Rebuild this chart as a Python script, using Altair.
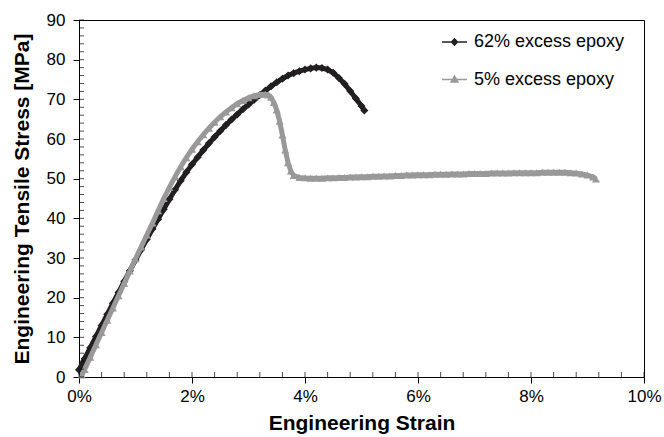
import altair as alt
import pandas as pd

# ---------------- data ----------------
series_names = ["62% excess epoxy", "5% excess epoxy"]
series_colors = ["#231f20", "#999999"]
series_shapes = ["diamond", "triangle-up"]

strain_62 = [0.0, 0.1, 0.2, 0.3, 0.4, 0.5, 0.6, 0.7, 0.8, 0.9,
             1.0, 1.1, 1.2, 1.3, 1.4, 1.5, 1.6, 1.7, 1.8, 1.9,
             2.0, 2.1, 2.2, 2.3, 2.4, 2.5, 2.6, 2.7, 2.8, 2.9,
             3.0, 3.1, 3.2, 3.3, 3.4, 3.5, 3.6, 3.7, 3.8, 3.9,
             4.0, 4.1, 4.2, 4.3, 4.4, 4.5, 4.6, 4.7, 4.8, 4.9,
             5.0, 5.05]
stress_62 = [1.8, 4.6, 7.4, 10.2, 13.0, 15.8, 18.6, 21.3, 24.1, 26.8,
             29.5, 32.1, 34.7, 37.3, 39.8, 42.3, 44.8, 47.2, 49.5, 51.6,
             53.6, 55.4, 57.2, 58.9, 60.5, 62.0, 63.5, 64.9, 66.2, 67.5,
             68.7, 69.9, 71.1, 72.2, 73.3, 74.3, 75.2, 76.0, 76.6, 77.1,
             77.5, 77.8, 78.0, 77.9, 77.5, 76.7, 75.4, 73.9, 72.1, 70.2,
             68.3, 67.2]

strain_5 = [0.05, 0.1, 0.2, 0.3, 0.4, 0.5, 0.6, 0.7, 0.8, 0.9,
            1.0, 1.1, 1.2, 1.3, 1.4, 1.5, 1.6, 1.7, 1.8, 1.9,
            2.0, 2.1, 2.2, 2.3, 2.4, 2.5, 2.6, 2.7, 2.8, 2.9,
            3.0, 3.1, 3.2, 3.3, 3.35, 3.4, 3.45, 3.5, 3.55, 3.6,
            3.65, 3.7, 3.75, 3.8, 3.9,
            4.0, 4.1, 4.2, 4.3, 4.4, 4.5, 4.6, 4.7, 4.8, 4.9,
            5.0, 5.1, 5.2, 5.3, 5.4, 5.5, 5.6, 5.7, 5.8, 5.9,
            6.0, 6.1, 6.2, 6.3, 6.4, 6.5, 6.6, 6.7, 6.8, 6.9,
            7.0, 7.1, 7.2, 7.3, 7.4, 7.5, 7.6, 7.7, 7.8, 7.9,
            8.0, 8.1, 8.2, 8.3, 8.4, 8.5, 8.6, 8.7, 8.8, 8.9,
            9.0, 9.1, 9.15]
stress_5 = [0.5, 1.9, 5.0, 8.1, 11.2, 14.3, 17.4, 20.5, 23.6, 26.7,
            29.8, 32.8, 35.8, 38.8, 41.9, 45.0, 47.8, 50.5, 53.0, 55.3,
            57.4, 59.3, 61.1, 62.7, 64.2, 65.6, 66.8, 67.9, 68.9, 69.7,
            70.4, 70.9, 71.2, 71.3, 71.1, 70.5, 69.2, 67.3, 64.5, 61.0,
            57.2, 54.0, 51.9, 50.8, 50.3,
            50.2, 50.1, 50.1, 50.1, 50.2, 50.2, 50.3, 50.3, 50.4, 50.4,
            50.5, 50.5, 50.6, 50.6, 50.7, 50.7, 50.8, 50.8, 50.9, 50.9,
            51.0, 51.0, 51.0, 51.1, 51.1, 51.1, 51.2, 51.2, 51.2, 51.3,
            51.3, 51.3, 51.3, 51.4, 51.4, 51.4, 51.4, 51.5, 51.5, 51.5,
            51.5, 51.5, 51.6, 51.6, 51.6, 51.6, 51.6, 51.5, 51.4, 51.2,
            50.9, 50.4, 49.9]

x_major = [0, 2, 4, 6, 8, 10]
x_minor = [0, 0.4, 0.8, 1.2, 1.6, 2, 2.4, 2.8, 3.2, 3.6, 4, 4.4, 4.8, 5.2,
           5.6, 6, 6.4, 6.8, 7.2, 7.6, 8, 8.4, 8.8, 9.2, 9.6, 10]
y_major = [0, 10, 20, 30, 40, 50, 60, 70, 80, 90]
y_minor = list(range(0, 92, 2))

# ---------------- tables ----------------
df = pd.DataFrame({
    "strain": strain_62 + strain_5,
    "stress": stress_62 + stress_5,
    "series": [series_names[0]] * len(strain_62) + [series_names[1]] * len(strain_5),
})
df_xticks = pd.DataFrame({"v": x_minor})
df_yticks = pd.DataFrame({"v": y_minor})

W, H = 565, 357
FONT = "Liberation Sans"

x_scale = alt.Scale(domain=[0, 10], nice=False, zero=False)
y_scale = alt.Scale(domain=[0, 90], nice=False, zero=False)
color_scale = alt.Scale(domain=series_names, range=series_colors)

X_AXIS = alt.Axis(values=x_major, labelExpr="datum.value + '%'",
                  title="Engineering Strain", grid=False, tickSize=6,
                  labelFlush=False, labelPadding=5, titlePadding=8)
Y_AXIS = alt.Axis(values=y_major, title="Engineering Tensile Stress [MPa]",
                  grid=False, tickSize=6, labelPadding=8, titlePadding=14,
                  labelFlush=False)

XF = alt.X("strain:Q", scale=x_scale, axis=X_AXIS)
YF = alt.Y("stress:Q", scale=y_scale, axis=Y_AXIS)


def series_layers(i):
    base = alt.Chart(df).transform_filter(alt.datum.series == series_names[i])
    line = base.mark_line(strokeWidth=5, color=series_colors[i]).encode(x=XF, y=YF)
    pts = base.mark_point(filled=True, size=65, opacity=1,
                          shape=series_shapes[i], color=series_colors[i]).encode(x=XF, y=YF)
    return [line, pts]


# inward minor ticks on the bottom and left edges
xticks = alt.Chart(df_xticks).mark_tick(
    orient="vertical", size=5, thickness=1, color="black", yOffset=-2.5
).encode(
    x=alt.X("v:Q", scale=x_scale, axis=X_AXIS),
    y=alt.YDatum(0, scale=y_scale, axis=Y_AXIS),
)
yticks = alt.Chart(df_yticks).mark_tick(
    orient="horizontal", size=5, thickness=1, color="black", xOffset=2.5
).encode(
    y=alt.Y("v:Q", scale=y_scale, axis=Y_AXIS),
    x=alt.XDatum(0, scale=x_scale, axis=X_AXIS),
)

# legend symbols: a short line with the marker in the middle
diamond_path = ("M-1,0L1,0M-0.24,0L0,-0.26L0.24,0L0,0.26Z"
                "M-0.12,0L0,-0.13L0.12,0L0,0.13Z")
triangle_path = ("M-1,0L1,0M-0.28,0.2L0,-0.28L0.28,0.2Z"
                 "M-0.14,0.1L0,-0.14L0.14,0.1Z")

leg = alt.Legend(orient="none", legendX=362, legendY=8.5, title=None,
                 labelFont=FONT, labelFontSize=18, labelColor="black",
                 symbolSize=625, symbolStrokeWidth=1.4, rowPadding=14.5,
                 labelOffset=6, padding=0)

legend_layer = alt.Chart(df).transform_filter("false").mark_point(
    filled=False, opacity=1, strokeWidth=1.4
).encode(
    x=XF, y=YF,
    color=alt.Color("series:N", scale=color_scale, legend=leg),
    shape=alt.Shape("series:N",
                    scale=alt.Scale(domain=series_names, range=[diamond_path, triangle_path]),
                    legend=leg),
)

layers = series_layers(0) + series_layers(1) + [xticks, yticks, legend_layer]

chart = alt.layer(*layers).properties(
    width=W, height=H,
    autosize=alt.AutoSizeParams(type="none"),
    padding={"left": 79, "top": 20, "right": 20, "bottom": 60},
    background="white",
).configure_view(
    stroke="black", strokeWidth=1
).configure_axis(
    labelFont=FONT, labelFontSize=17, labelColor="black",
    titleFont=FONT, titleFontSize=21, titleFontWeight="bold", titleColor="black",
    domainColor="black", tickColor="black", domainWidth=1, tickWidth=1,
)

chart.save("out.html", embed_options={"renderer": "svg", "actions": False})
